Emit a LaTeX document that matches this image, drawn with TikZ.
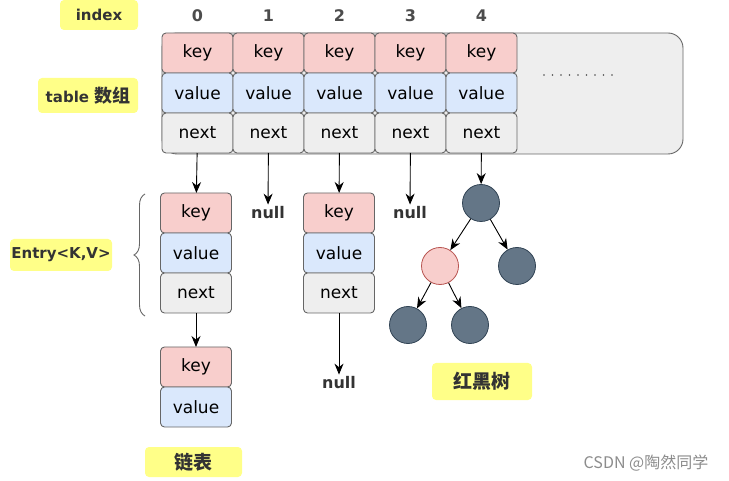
\documentclass[tikz,border=0pt]{standalone}
\usepackage{fontspec}
\setmainfont{DejaVu Sans}
\newfontfamily\cjk{Noto Sans CJK SC}
\usepackage{tikz}
\usetikzlibrary{arrows.meta}
\usetikzlibrary{positioning, decorations.pathreplacing}

\definecolor{keyred}{HTML}{F8CECC}
\definecolor{valblue}{HTML}{DAE8FC}
\definecolor{nextgray}{HTML}{EEEEEE}
\definecolor{cellline}{HTML}{666666}
\definecolor{nodedark}{HTML}{647687}
\definecolor{nodedarkline}{HTML}{314354}
\definecolor{nodered}{HTML}{B85450}
\definecolor{tagyellow}{HTML}{FFFF88}
\definecolor{txt}{HTML}{333333}

\tikzset{
    cell/.style={draw=cellline, line width=0.9pt, rounded corners=4pt,
        minimum width=71pt, minimum height=40pt, inner sep=0pt, outer sep=0pt,
        font=\fontsize{17}{19}\selectfont, text=black},
    keycell/.style={cell, fill=keyred},
    valcell/.style={cell, fill=valblue},
    nextcell/.style={cell, fill=nextgray},
    tag/.style={fill=tagyellow, rounded corners=4pt, inner sep=0pt,
        font=\fontsize{15}{17}\selectfont\bfseries, text=txt},
    nulltxt/.style={font=\fontsize{16}{18}\selectfont\bfseries, text=txt, inner sep=2pt},
    arr/.style={-{Stealth[length=11pt,width=9pt]}, line width=0.9pt, black},
    tnode/.style={circle, minimum size=37pt, inner sep=0pt, line width=0.8pt},
    blk/.style={tnode, fill=nodedark, draw=nodedarkline},
    red/.style={tnode, fill=keyred, draw=nodered},
}

\begin{document}
\begin{tikzpicture}[x=1pt, y=-1pt]
    \useasboundingbox (0,0) rectangle (729,481);

    % table
    \draw[fill=nextgray, draw=cellline, line width=0.9pt, rounded corners=15pt] (162,33) rectangle (683,154);
    \foreach \i in {0,...,4} {
        \node[keycell] (k\i) at ({197.5+71*\i},53) {key};
        \node[valcell, below=0pt of k\i] (v\i) {value};
        \node[nextcell, below=0pt of v\i] (n\i) {next};
        \node[nulltxt, text=black!70] (idx\i) at ({197.5+71*\i},16) {\i};
    }
    \foreach \d in {0,...,8}
        \fill[black!70] ({544+8.5*\d},75) circle (0.9pt);

    \node[tag, minimum width=78pt, minimum height=30pt] (index) at (99,15) {index};
    \node[tag, minimum width=100pt, minimum height=35pt] (table) at (88,95.5) {table {\cjk\fontsize{18}{20}\selectfont 数组}};

    % bucket 0: linked list
    \node[keycell] (a1k) at (196,213) {key};
    \node[valcell, below=0pt of a1k] (a1v) {value};
    \node[nextcell, below=0pt of a1v] (a1n) {next};
    \node[keycell] (a2k) at (196,367) {key};
    \node[valcell, below=0pt of a2k] (a2v) {value};
    \draw[arr] (n0) -- (a1k);
    \draw[arr] (a1n) -- (a2k);

    \draw[cellline, line width=0.9pt, decorate, decoration={brace, amplitude=11pt}] (145,316) -- (145,194);
    \node[tag, minimum width=102pt, minimum height=32pt] (entry) at (61,255) {Entry<K,V>};
    \node[tag, minimum width=97pt, minimum height=30pt, font=\cjk\fontsize{19}{21}\selectfont\bfseries] (list) at (193.5,462) {链表};

    % bucket 1 and 3
    \node[nulltxt] (null1) at (268,213) {null};
    \draw[arr] (n1) -- (null1);
    \node[nulltxt] (null3) at (410,213) {null};
    \draw[arr] (n3) -- (null3);

    % bucket 2
    \node[keycell] (b1k) at (339,213) {key};
    \node[valcell, below=0pt of b1k] (b1v) {value};
    \node[nextcell, below=0pt of b1v] (b1n) {next};
    \node[nulltxt] (null2) at (339,383) {null};
    \draw[arr] (n2) -- (b1k);
    \draw[arr] (b1n) -- (null2);

    % bucket 4: red-black tree
    \node[blk] (root) at (481,203) {};
    \node[red] (rl) at (440,266) {};
    \node[blk] (rr) at (517,266) {};
    \node[blk] (ll) at (408,325) {};
    \node[blk] (lr) at (470,325) {};
    \draw[arr] (n4) -- (root);
    \draw[arr] (root) -- (rl);
    \draw[arr] (root) -- (rr);
    \draw[arr] (rl) -- (ll);
    \draw[arr] (rl) -- (lr);
    \node[tag, minimum width=100pt, minimum height=37pt, font=\cjk\fontsize{19}{21}\selectfont\bfseries] (tree) at (482,381.5) {红黑树};

    \node[text=black!45, font=\cjk\fontsize{16}{18}\selectfont] (mark) at (646,463) {CSDN @陶然同学};
\end{tikzpicture}
\end{document}
